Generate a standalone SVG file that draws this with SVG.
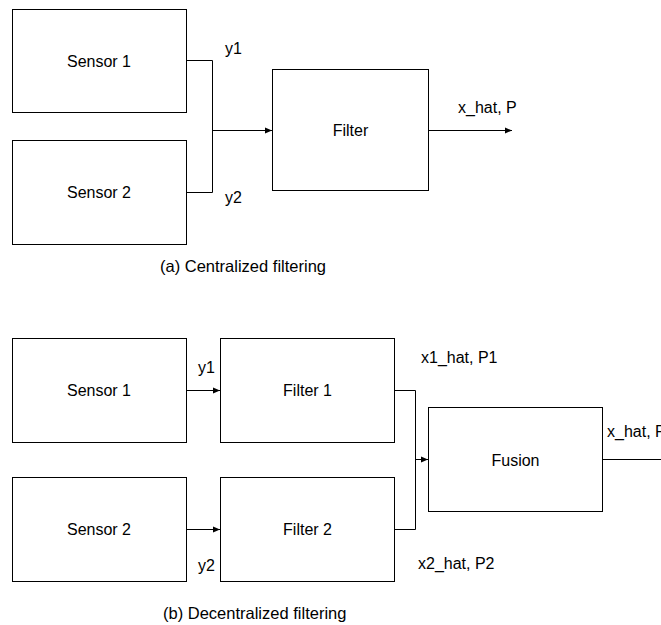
<svg xmlns="http://www.w3.org/2000/svg" width="661" height="625" viewBox="0 0 661 625">
<style>
.box{fill:#fff;stroke:#000;stroke-width:1}
.ln{fill:none;stroke:#000;stroke-width:1}
text{font-family:"Liberation Sans",Arial,sans-serif;font-size:16px;fill:#000}
.c{text-anchor:middle}
.cap{font-size:16.5px}
</style>
<defs>
<marker id="ah" markerUnits="userSpaceOnUse" markerWidth="8" markerHeight="8" viewBox="0 0 8 8" refX="7" refY="4" orient="auto">
<path d="M0,1 L7,4 L0,7 Z" fill="#000"/>
</marker>
</defs>
<rect width="661" height="625" fill="#fff"/>
<g id="a-sensor1"><rect class="box" x="12.5" y="9.5" width="174" height="103"/><text class="c" x="99" y="66.5">Sensor 1</text></g>
<g id="a-sensor2"><rect class="box" x="12.5" y="140.5" width="174" height="104"/><text class="c" x="99" y="198">Sensor 2</text></g>
<g id="a-filter"><rect class="box" x="272.5" y="69.5" width="156" height="121"/><text class="c" x="350.5" y="136">Filter</text></g>
<g id="b-sensor1"><rect class="box" x="12.5" y="338.5" width="174" height="104"/><text class="c" x="99" y="396">Sensor 1</text></g>
<g id="b-sensor2"><rect class="box" x="12.5" y="477.5" width="174" height="104"/><text class="c" x="99" y="535">Sensor 2</text></g>
<g id="b-filter1"><rect class="box" x="220.5" y="338.5" width="174" height="104"/><text class="c" x="307.5" y="396">Filter 1</text></g>
<g id="b-filter2"><rect class="box" x="220.5" y="477.5" width="174" height="104"/><text class="c" x="307.5" y="535">Filter 2</text></g>
<g id="b-fusion"><rect class="box" x="428.5" y="407.5" width="174" height="104"/><text class="c" x="515.5" y="465.5">Fusion</text></g>
<g id="connectors">
<path class="ln" d="M186.5 60.5 H212.5 V192.5 H186.5"/>
<path class="ln" d="M212.5 130.5 H272" marker-end="url(#ah)"/>
<path class="ln" d="M428.5 130.5 H512" marker-end="url(#ah)"/>
<path class="ln" d="M186.5 390.5 H220" marker-end="url(#ah)"/>
<path class="ln" d="M186.5 529.5 H220" marker-end="url(#ah)"/>
<path class="ln" d="M394.5 390.5 H415.5 V529.5 H394.5"/>
<path class="ln" d="M415.5 459.5 H428" marker-end="url(#ah)"/>
<path class="ln" d="M602.5 459.5 H670"/>
</g>
<g id="labels">
<text x="225" y="54">y1</text>
<text x="225" y="203">y2</text>
<text x="458" y="113">x_hat, P</text>
<text class="cap" x="160" y="272">(a) Centralized filtering</text>
<text x="198" y="373">y1</text>
<text x="198" y="571">y2</text>
<text x="421" y="363">x1_hat, P1</text>
<text x="418" y="569">x2_hat, P2</text>
<text x="607" y="437">x_hat, P</text>
<text class="cap" x="163" y="619">(b) Decentralized filtering</text>
</g>
</svg>
